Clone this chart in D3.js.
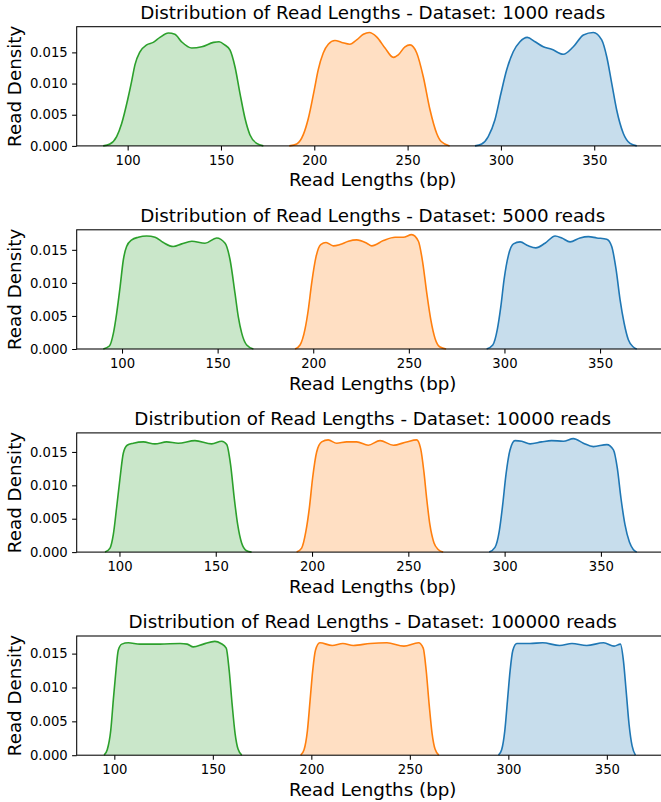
<!DOCTYPE html>
<html>
<head>
<meta charset="utf-8">
<script src="https://cdn.jsdelivr.net/npm/d3@7"></script>
<style>
body { margin: 0; background: #fff; }
svg { display: block; font-family: "DejaVu Sans", sans-serif; }
</style>
</head>
<body>
<div class="chart"></div>
<script>
// data: [read length, density]
const datasets = ["1000", "5000", "10000", "100000"];
const xTicks = [100, 150, 200, 250, 300, 350];
const yTicks = [0, 0.005, 0.010, 0.015];
const xLimits = [[72.7, 389.9], [76.3, 385.9], [77.8, 385.2], [80.9, 381.4]];
const yLimits = [0.01912, 0.01803, 0.01785, 0.0176];

const green1000 = [[86.9,0],[90.5,0.0003],[94.1,0.0015],[96.8,0.0036],[100,0.0074],[102.1,0.0103],[103.9,0.0130],[106.6,0.0151],[110.2,0.0162],[113.7,0.0166],[117.3,0.0174],[121.8,0.0181],[125.3,0.0179],[128.9,0.0167],[134.3,0.0157],[139.7,0.0159],[146,0.0166],[149,0.0167],[152,0.0162],[154.8,0.0154],[157.5,0.0127],[160.2,0.0084],[162.9,0.0044],[165.5,0.0018],[169.1,0.0004],[172.7,0]];
const orange1000 = [[186.6,0],[190.6,0.0003],[194.1,0.0018],[196.8,0.0044],[200,0.0090],[202.1,0.0122],[204.8,0.0149],[207.5,0.0163],[211.1,0.0169],[214.7,0.0166],[219.1,0.0163],[222.7,0.0170],[226.3,0.0179],[229.5,0.0182],[233.4,0.0175],[237.9,0.0157],[242.3,0.0142],[245,0.0146],[248.6,0.0159],[251.3,0.0162],[254.9,0.0149],[258.4,0.0111],[262,0.0058],[265.6,0.0020],[268,0.0007],[272.5,0]];
const blue1000 = [[286.1,0],[289.7,0.0003],[293.2,0.0015],[296.8,0.0042],[300,0.0084],[303.1,0.0122],[306.6,0.0151],[310.2,0.0167],[314.1,0.0174],[318.3,0.0167],[322.7,0.0159],[327.2,0.0155],[333.4,0.0147],[338.8,0.0159],[344.2,0.0178],[349.5,0.0182],[354,0.0170],[356.7,0.0143],[359.4,0.0100],[362,0.0058],[365.6,0.0020],[369.2,0.0004],[372.8,0]];

const green5000 = [[90.2,0],[93.4,0.00045],[95.5,0.0024],[97.2,0.0054],[99,0.0094],[100.7,0.0135],[102.4,0.0155],[105.1,0.0165],[108.5,0.0169],[112.9,0.0171],[117.3,0.0169],[121.6,0.0161],[126.8,0.0155],[131.2,0.0159],[136.5,0.0163],[143.4,0.0160],[149.5,0.0168],[153.9,0.0160],[156.5,0.0135],[159.1,0.0084],[160.8,0.0049],[162.6,0.0024],[165.2,0.0006],[168.7,0]];
const orange5000 = [[190.5,0],[193.1,0.0006],[195.7,0.0030],[197.4,0.0059],[199.2,0.0100],[201.5,0.0140],[203.9,0.0158],[206.7,0.0161],[210.5,0.0156],[214,0.0158],[218.4,0.0163],[222.7,0.0165],[228,0.0160],[230.6,0.0156],[236.7,0.0164],[242.8,0.0169],[247.1,0.0169],[251.5,0.0173],[255,0.0163],[257.3,0.0130],[259.4,0.0084],[261.5,0.0044],[263.7,0.0016],[266.3,0.0003],[269.5,0]];
const blue5000 = [[290.7,0],[293.9,0.0006],[296.3,0.0030],[298.1,0.0064],[299.8,0.0105],[302.1,0.0142],[304.7,0.0159],[308.2,0.0162],[312.5,0.0156],[316.4,0.0153],[321.2,0.0160],[326.5,0.0171],[330,0.0168],[334.3,0.0162],[339.5,0.0168],[343.9,0.0170],[348.3,0.0168],[353.5,0.0166],[356.1,0.0155],[358.4,0.0120],[360.5,0.0074],[362.6,0.0039],[364.8,0.0014],[367.4,0.0003],[369.2,0]];

const green10000 = [[92.5,0],[95.1,0.0006],[96.8,0.0026],[98.5,0.0066],[100.3,0.0111],[102,0.0148],[104,0.0160],[107.2,0.0163],[112.4,0.0165],[118.4,0.0162],[124.5,0.0165],[130.5,0.0163],[139.2,0.0167],[147.9,0.0162],[153.1,0.0166],[155.7,0.0161],[157.7,0.0131],[159.6,0.0081],[161.4,0.0041],[163.4,0.0014],[166,0.0002],[168.6,0]];
const orange10000 = [[192,0],[194.6,0.0006],[196.8,0.0031],[198.6,0.0066],[200.3,0.0111],[202.4,0.0150],[205,0.0165],[208.4,0.0168],[212.8,0.0163],[218,0.0165],[223.2,0.0165],[229.2,0.0160],[235.3,0.0167],[242.2,0.0160],[249.1,0.0165],[254.3,0.0168],[256.4,0.0155],[258.1,0.0120],[259.5,0.0081],[261.2,0.0041],[263.3,0.0014],[265.5,0.0004],[268.1,0]];
const blue10000 = [[292,0],[295,0.0007],[297.2,0.0031],[299,0.0071],[300.7,0.0116],[302.8,0.0153],[305.4,0.0167],[308.9,0.0166],[313.2,0.0162],[319.2,0.0165],[324.4,0.0167],[330.5,0.0166],[335.7,0.0170],[340.9,0.0163],[346.1,0.0158],[353.1,0.0161],[356.5,0.0153],[358.5,0.0126],[360.4,0.0081],[362.5,0.0041],[364.8,0.0015],[366.8,0.0004],[368.6,0]];

const green100000 = [[94.8,0],[96.4,0.0008],[98.2,0.0037],[99.5,0.0082],[100.7,0.0121],[102,0.0155],[103.8,0.0164],[107.1,0.0166],[113,0.0164],[123.2,0.0164],[133.4,0.0165],[137,0.0164],[140.1,0.0160],[145.2,0.0164],[151,0.0168],[154.1,0.0165],[156.8,0.0158],[158.3,0.0125],[159.8,0.0075],[161.3,0.0032],[162.8,0.0009],[164.7,0]];
const orange100000 = [[194.6,0],[196.3,0.0008],[198,0.0036],[199.4,0.0082],[200.7,0.0125],[202.1,0.0155],[204.3,0.0166],[210.6,0.0162],[216,0.0165],[221.3,0.0162],[229.9,0.0165],[238.4,0.0166],[247,0.0161],[254.4,0.0166],[256.8,0.0158],[258.3,0.0125],[259.8,0.0075],[261.3,0.0032],[262.8,0.0009],[264.7,0]];
const blue100000 = [[295,0],[296.6,0.0008],[298.2,0.0036],[299.6,0.0082],[300.9,0.0125],[302.3,0.0155],[304.3,0.0165],[311,0.0165],[317.4,0.0166],[326,0.0162],[332.3,0.0165],[339.8,0.0162],[348.4,0.0166],[353.7,0.0161],[356.9,0.0164],[358.4,0.0140],[359.8,0.0095],[361.3,0.0045],[362.8,0.0014],[364.5,0]];

const curves = [
    [green1000, orange1000, blue1000],
    [green5000, orange5000, blue5000],
    [green10000, orange10000, blue10000],
    [green100000, orange100000, blue100000]
];
const colors = ["#2ca02c", "#ff7f0e", "#1f77b4"];

// layout
let outWidth = 661, outHeight = 802;
let margin = {left: 76.7, top: 26.7};
let width = 592, height = 119.2, step = 203.1;
let tickFont = 13.2, labelFont = 18.3;

const svg = d3.select('.chart').append('svg')
    .attr("width", outWidth)
    .attr("height", outHeight);

datasets.forEach((name, i) => {
    const g = svg.append("g")
        .attr("transform", `translate(${margin.left}, ${margin.top + i * step})`);

    let x = d3.scaleLinear().domain(xLimits[i]).range([0, width]);
    let y = d3.scaleLinear().domain([0, yLimits[i]]).range([height, 0]);

    const area = d3.area()
        .x(d => x(d[0]))
        .y0(height)
        .y1(d => y(d[1]))
        .curve(d3.curveMonotoneX);
    const line = d3.line()
        .x(d => x(d[0]))
        .y(d => y(d[1]))
        .curve(d3.curveMonotoneX);

    curves[i].forEach((c, j) => {
        g.append("path")
            .attr("d", area(c))
            .attr("fill", colors[j])
            .attr("fill-opacity", 0.25);
        g.append("path")
            .attr("d", line(c))
            .attr("fill", "none")
            .attr("stroke", colors[j])
            .attr("stroke-width", 1.6);
    });

    // axes
    const xAxis = g.append("g")
        .attr("transform", `translate(0, ${height})`)
        .call(d3.axisBottom(x).tickValues(xTicks).tickSize(4.6).tickPadding(5.2).tickFormat(d3.format("d")));
    const yAxis = g.append("g")
        .call(d3.axisLeft(y).tickValues(yTicks).tickSize(4.6).tickPadding(4.4).tickFormat(d3.format(".3f")));

    [xAxis, yAxis].forEach(a => {
        a.select(".domain").remove();
        a.attr("font-family", "DejaVu Sans").attr("font-size", tickFont);
        a.selectAll("line").attr("stroke", "#000").attr("stroke-width", 1.05);
        a.selectAll("text").attr("fill", "#000");
    });

    // frame
    g.append("rect")
        .attr("width", width)
        .attr("height", height)
        .attr("fill", "none")
        .attr("stroke", "#000")
        .attr("stroke-width", 1.05);

    // texts
    g.append("text")
        .attr("x", width / 2)
        .attr("y", -7.7)
        .attr("text-anchor", "middle")
        .attr("font-size", labelFont)
        .text(`Distribution of Read Lengths - Dataset: ${name} reads`);

    g.append("text")
        .attr("x", width / 2)
        .attr("y", height + 40.6)
        .attr("text-anchor", "middle")
        .attr("font-size", labelFont)
        .text("Read Lengths (bp)");

    g.append("text")
        .attr("transform", `translate(${21.5 - margin.left}, ${height / 2}) rotate(-90)`)
        .attr("text-anchor", "middle")
        .attr("font-size", labelFont)
        .text("Read Density");
});
</script>
</body>
</html>
